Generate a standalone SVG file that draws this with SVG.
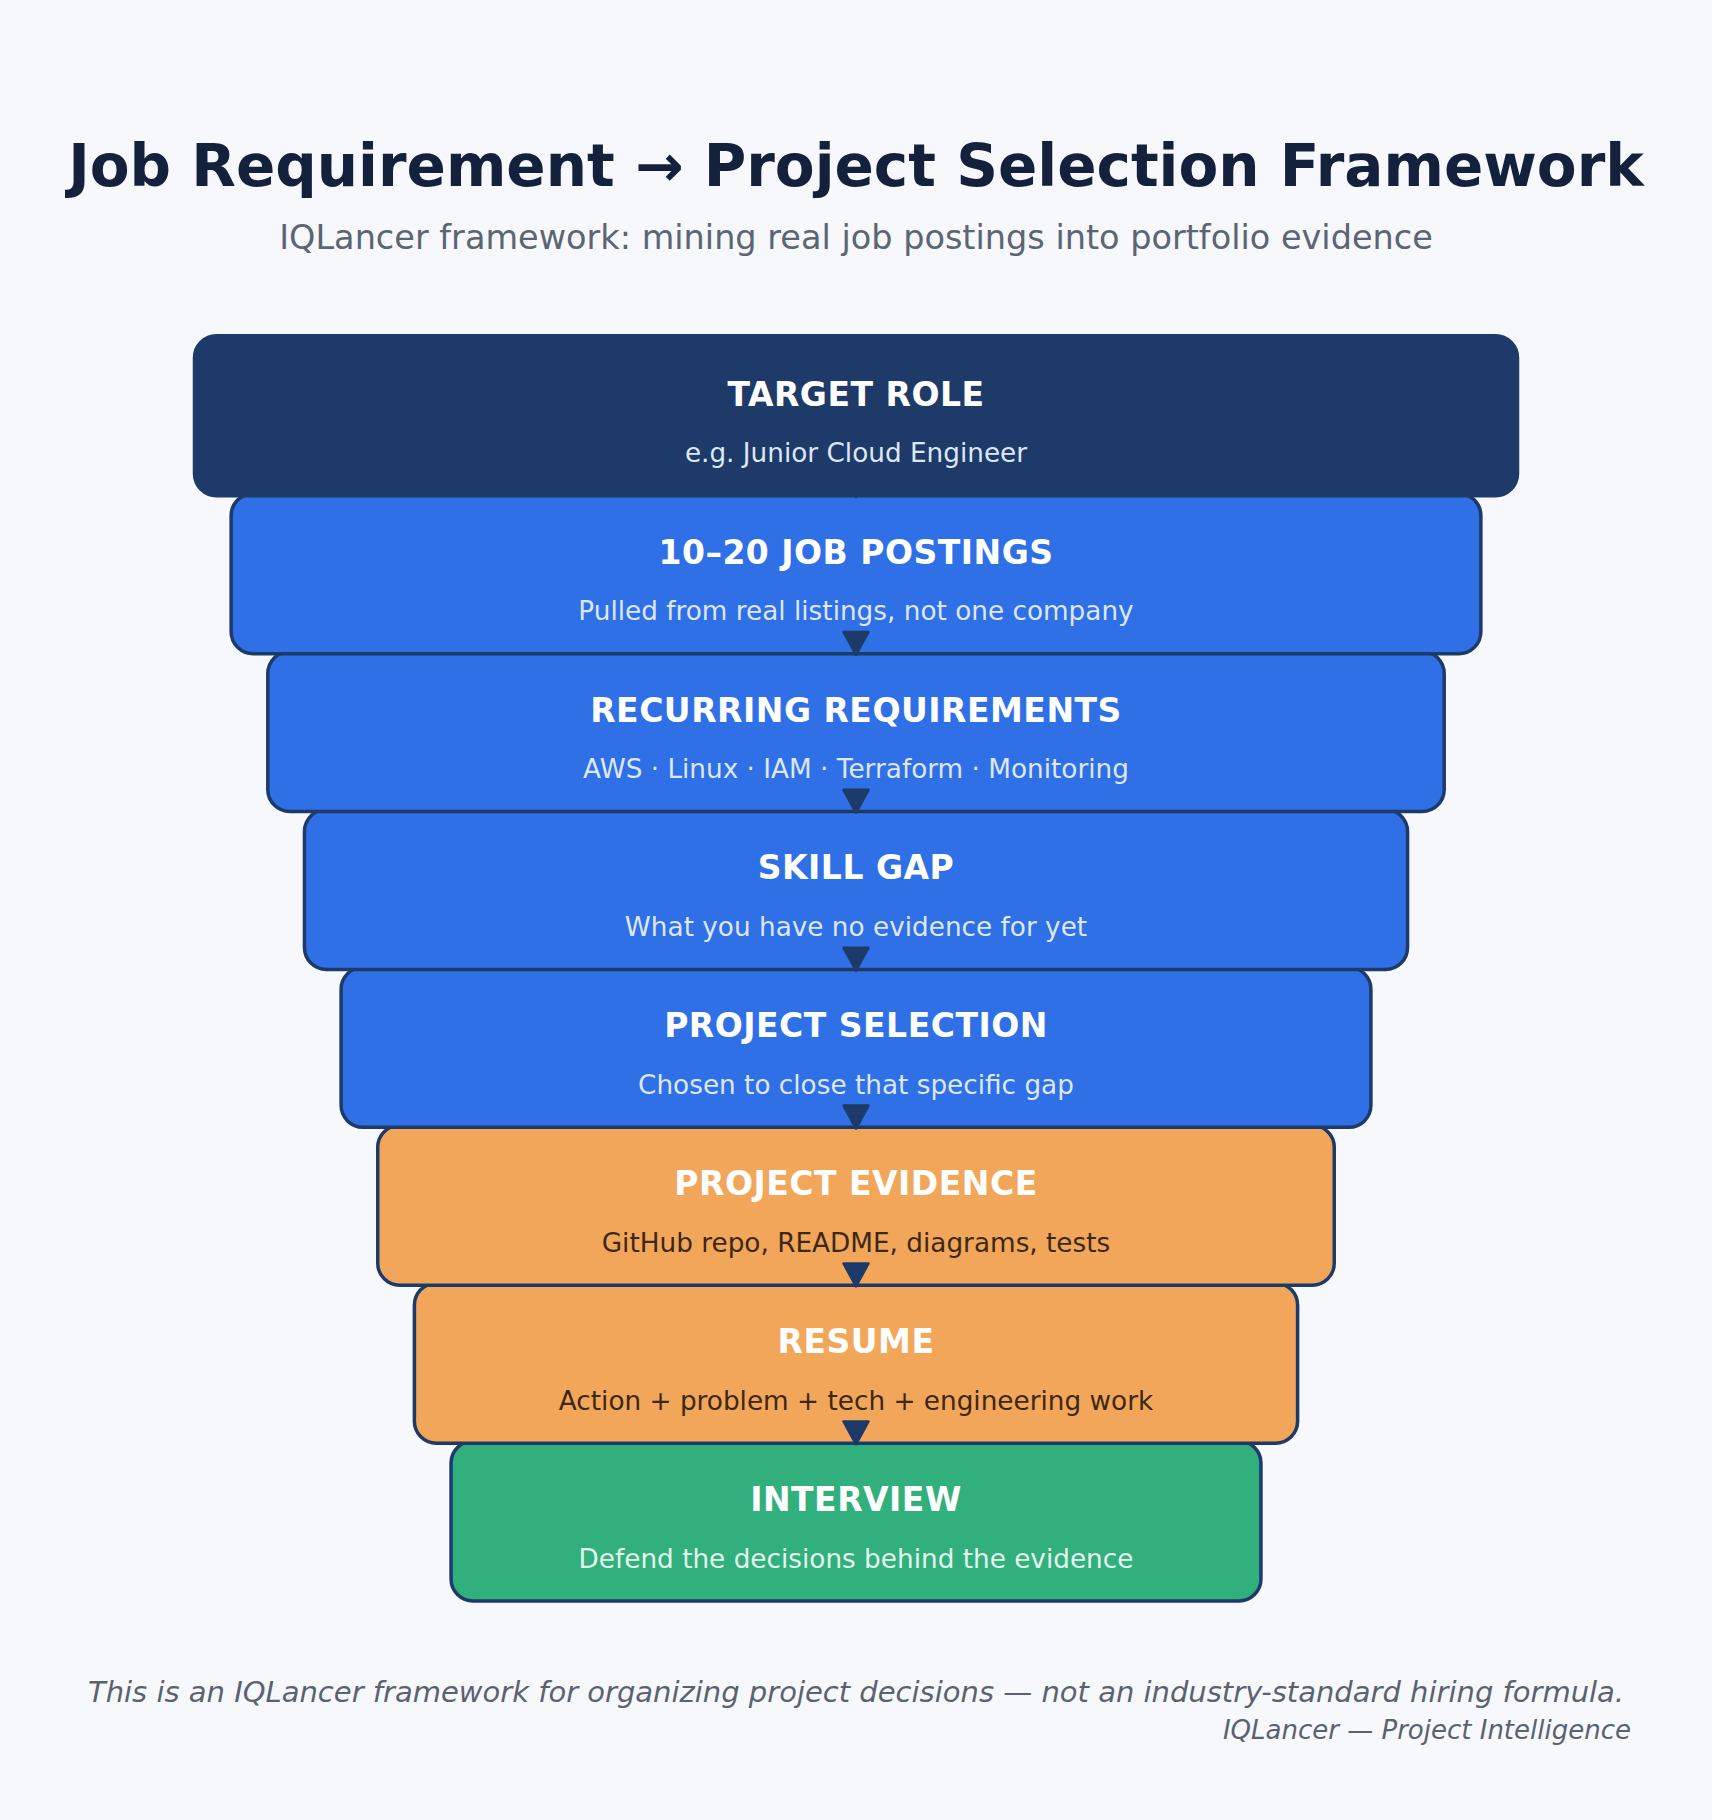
<svg xmlns="http://www.w3.org/2000/svg" width="1712" height="1820" viewBox="0 0 1712 1820">
<style>
  .box { stroke: #1e3a68; stroke-width: 3.5; }
  .navy { fill: #1e3a68; }
  .blue { fill: #2f70e6; }
  .orange { fill: #f2a65a; }
  .green { fill: #31af7c; }
  .ttl { font-family: "DejaVu Sans", sans-serif; font-weight: bold; font-size: 33px; letter-spacing: 0.5px; fill: #ffffff; text-anchor: middle; }
  .sub { font-family: "DejaVu Sans", sans-serif; font-size: 26.3px; text-anchor: middle; }
  .subL { fill: #dde7f7; }
  .subD { fill: #3d2816; }
  .subG { fill: #e3f6ed; }
  .conn { stroke: #1e3a68; stroke-width: 3; fill: none; }
</style>
<defs>
  <marker id="arrow" markerUnits="userSpaceOnUse" markerWidth="30" markerHeight="30" viewBox="0 0 30 30" refX="26" refY="15" orient="auto">
    <path d="M3,2.5 L26,15 L3,27.5 Z" fill="#1e3a68" stroke="#1e3a68" stroke-width="2.5" stroke-linejoin="round"/>
  </marker>
</defs>
<rect x="0" y="0" width="1712" height="1820" fill="#f6f8fc"/>
<text x="856" y="185.5" font-family="DejaVu Sans, sans-serif" font-weight="bold" font-size="58" fill="#14213d" text-anchor="middle">Job Requirement → Project Selection Framework</text>
<text x="856" y="248.5" font-family="DejaVu Sans, sans-serif" font-size="33.5" fill="#5c6573" text-anchor="middle">IQLancer framework: mining real job postings into portfolio evidence</text>

<g id="node-interview">
  <rect class="box green" x="451.05" y="1441.05" width="809.9" height="160" rx="22"/>
  <text class="ttl" x="856" y="1511">INTERVIEW</text>
  <text class="sub subG" x="856" y="1567.5">Defend the decisions behind the evidence</text>
</g>
<g id="node-resume">
  <rect class="box orange" x="414.4" y="1283.15" width="883.2" height="160" rx="22"/>
  <text class="ttl" x="856" y="1353.1">RESUME</text>
  <text class="sub subD" x="856" y="1409.6">Action + problem + tech + engineering work</text>
</g>
<g id="node-project-evidence">
  <rect class="box orange" x="377.75" y="1125.25" width="956.5" height="160" rx="22"/>
  <text class="ttl" x="856" y="1195.2">PROJECT EVIDENCE</text>
  <text class="sub subD" x="856" y="1251.7">GitHub repo, README, diagrams, tests</text>
</g>
<g id="node-project-selection">
  <rect class="box blue" x="341.1" y="967.35" width="1029.8" height="160" rx="22"/>
  <text class="ttl" x="856" y="1037.3">PROJECT SELECTION</text>
  <text class="sub subL" x="856" y="1093.8">Chosen to close that specific gap</text>
</g>
<g id="node-skill-gap">
  <rect class="box blue" x="304.45" y="809.45" width="1103.1" height="160" rx="22"/>
  <text class="ttl" x="856" y="879.4">SKILL GAP</text>
  <text class="sub subL" x="856" y="935.9">What you have no evidence for yet</text>
</g>
<g id="node-recurring-requirements">
  <rect class="box blue" x="267.8" y="651.55" width="1176.4" height="160" rx="22"/>
  <text class="ttl" x="856" y="721.5">RECURRING REQUIREMENTS</text>
  <text class="sub subL" x="856" y="778">AWS · Linux · IAM · Terraform · Monitoring</text>
</g>
<g id="node-job-postings">
  <rect class="box blue" x="231.15" y="493.65" width="1249.7" height="160" rx="22"/>
  <text class="ttl" x="856" y="563.6">10–20 JOB POSTINGS</text>
  <text class="sub subL" x="856" y="620.1">Pulled from real listings, not one company</text>
</g>
<g id="node-target-role">
  <rect class="box navy" x="194.5" y="335.75" width="1323" height="160" rx="22"/>
  <text class="ttl" x="856" y="405.7">TARGET ROLE</text>
  <text class="sub subL" x="856" y="462.2">e.g. Junior Cloud Engineer</text>
</g>

<g id="connectors">
  <line class="conn" x1="856" y1="474" x2="856" y2="497" marker-end="url(#arrow)"/>
  <line class="conn" x1="856" y1="631.9" x2="856" y2="654.9" marker-end="url(#arrow)"/>
  <line class="conn" x1="856" y1="789.8" x2="856" y2="812.8" marker-end="url(#arrow)"/>
  <line class="conn" x1="856" y1="947.7" x2="856" y2="970.7" marker-end="url(#arrow)"/>
  <line class="conn" x1="856" y1="1105.6" x2="856" y2="1128.6" marker-end="url(#arrow)"/>
  <line class="conn" x1="856" y1="1263.5" x2="856" y2="1286.5" marker-end="url(#arrow)"/>
  <line class="conn" x1="856" y1="1421.4" x2="856" y2="1444.4" marker-end="url(#arrow)"/>
</g>

<text x="856" y="1702" font-family="DejaVu Sans, sans-serif" font-style="italic" font-size="29" fill="#5a6270" text-anchor="middle">This is an IQLancer framework for organizing project decisions — not an industry-standard hiring formula.</text>
<text x="1631" y="1739" font-family="DejaVu Sans, sans-serif" font-style="italic" font-size="26" fill="#5a6270" text-anchor="end">IQLancer — Project Intelligence</text>
</svg>
